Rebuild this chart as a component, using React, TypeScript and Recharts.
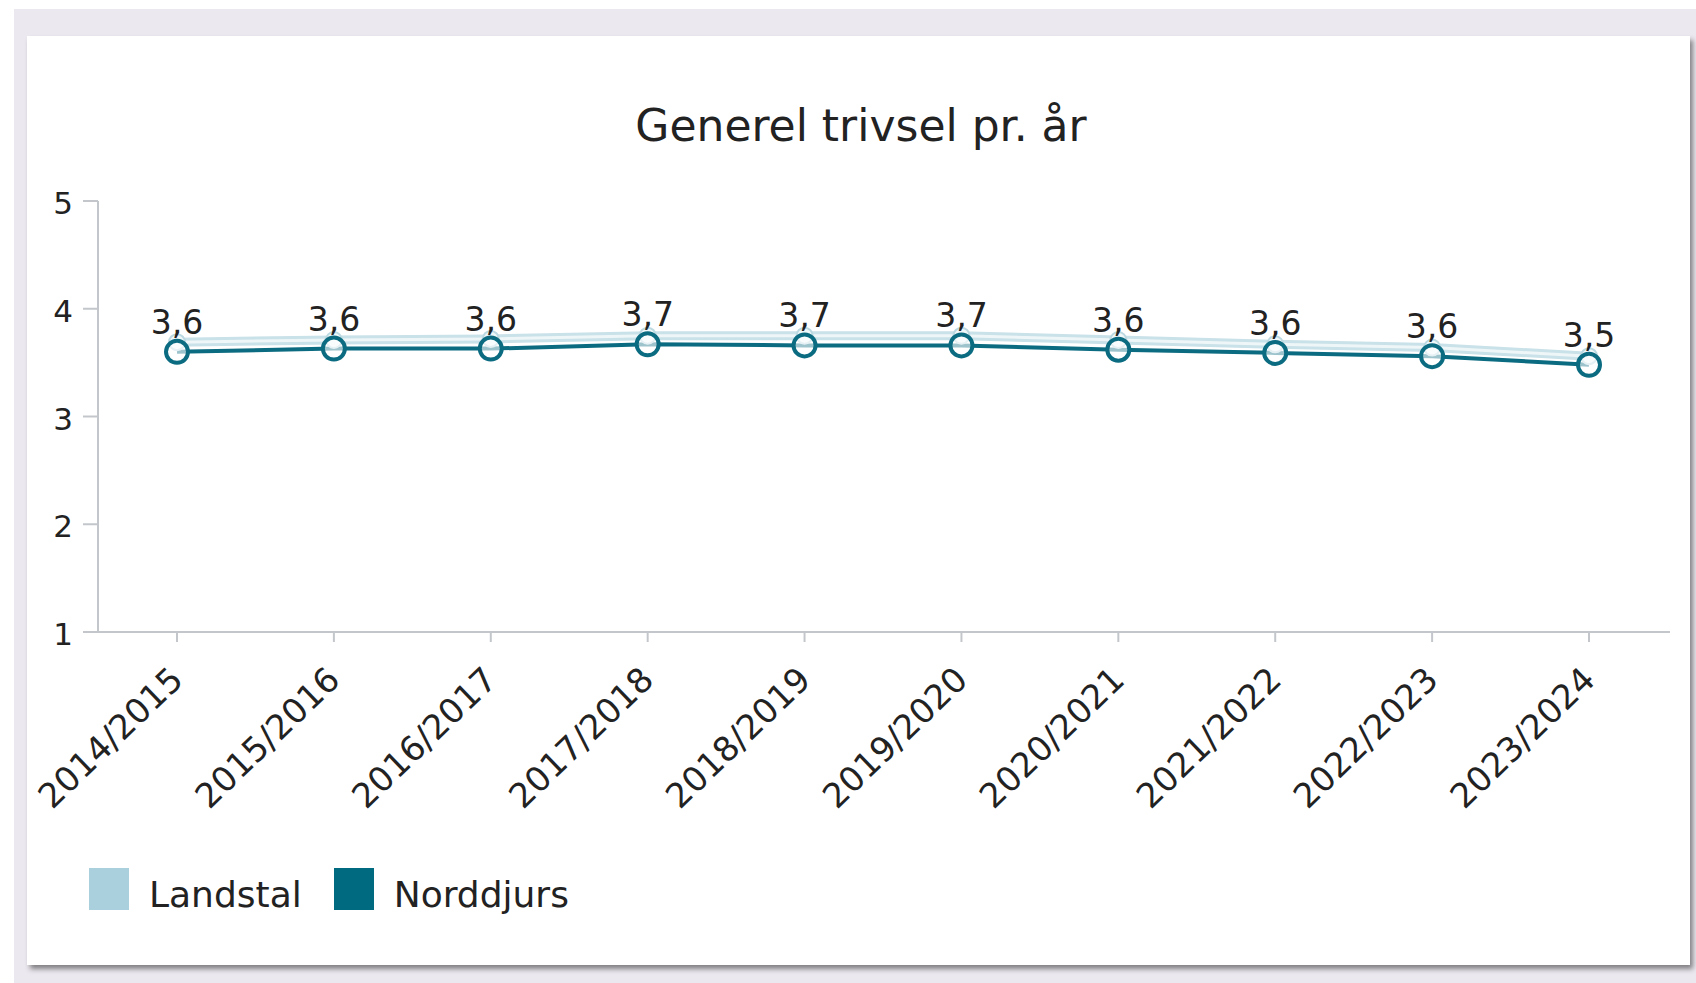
import React from 'react';
import { LineChart, Line, XAxis, YAxis, LabelList, Legend } from 'recharts';

// school years on the x axis
const years = [
  '2014/2015', '2015/2016', '2016/2017', '2017/2018', '2018/2019',
  '2019/2020', '2020/2021', '2021/2022', '2022/2023', '2023/2024',
];
const landstal = [3.69, 3.71, 3.72, 3.75, 3.75, 3.75, 3.71, 3.67, 3.64, 3.56];
const norddjurs = [3.6, 3.63, 3.63, 3.67, 3.66, 3.66, 3.62, 3.59, 3.56, 3.48];
const yTicks = [1, 2, 3, 4, 5];

const series = [
  { name: 'Landstal', color: '#a9d0dc' },
  { name: 'Norddjurs', color: '#006a80' },
];

const data = years.map((year, i) => ({
  year,
  landstal: landstal[i],
  norddjurs: norddjurs[i],
}));

const textColor = '#222';
const axisColor = '#c3c7cb';

const fmt = (v: number) => v.toFixed(1).replace('.', ',');

const YearTick = (props: any) => {
  const { x, y, payload } = props;
  return (
    <g transform={`translate(${x + 8},${y + 38})`}>
      <text textAnchor="end" transform="rotate(-44)" fill={textColor} fontSize={34}>
        {payload.value}
      </text>
    </g>
  );
};

const LegendBox = () => (
  <div style={{ display: 'flex', alignItems: 'flex-start' }}>
    {series.map((s, i) => (
      <div key={s.name} style={{ display: 'flex', alignItems: 'flex-start', marginRight: i === 0 ? 32 : 0 }}>
        <div style={{ width: 40, height: 42, background: s.color, marginRight: 20 }} />
        <span style={{ fontSize: 36, lineHeight: '36px', marginTop: 9, color: textColor }}>{s.name}</span>
      </div>
    ))}
  </div>
);

export default function App() {
  return (
    <div
      style={{
        position: 'absolute',
        left: 0,
        top: 0,
        width: 1696,
        height: 983,
        background: '#fff',
        fontFamily: '"DejaVu Sans", Verdana, sans-serif',
        overflow: 'hidden',
      }}
    >
      <div style={{ position: 'absolute', left: 14, top: 9, right: 0, bottom: 0, background: '#ece8ef' }} />
      <div
        style={{
          position: 'absolute',
          left: 27,
          top: 36,
          width: 1663,
          height: 929,
          background: '#fff',
          boxShadow: '3px 4px 5px rgba(0,0,0,0.45)',
        }}
      />
      <div
        style={{
          position: 'absolute',
          left: 861,
          top: 104,
          transform: 'translateX(-50%)',
          fontSize: 44,
          lineHeight: '44px',
          color: textColor,
          whiteSpace: 'nowrap',
        }}
      >
        Generel trivsel pr. år
      </div>
      <div style={{ position: 'absolute', left: 0, top: 0 }}>
        <LineChart
          width={1696}
          height={983}
          data={data}
          margin={{ top: 201, right: 26, bottom: 151, left: 8 }}
        >
          <XAxis
            dataKey="year"
            interval={0}
            padding={{ left: 79, right: 81 }}
            height={200}
            tickSize={10}
            axisLine={{ stroke: axisColor, strokeWidth: 2 }}
            tickLine={{ stroke: axisColor, strokeWidth: 2 }}
            tick={<YearTick />}
          />
          <YAxis
            type="number"
            domain={[1, 5]}
            ticks={yTicks}
            width={90}
            tickSize={15}
            tickMargin={10}
            axisLine={{ stroke: axisColor, strokeWidth: 2 }}
            tickLine={{ stroke: axisColor, strokeWidth: 2 }}
            tick={{ fill: textColor, fontSize: 31, dy: 2 }}
          />
          <Legend
            verticalAlign="middle"
            align="center"
            layout="horizontal"
            wrapperStyle={{ left: 89, top: 868, width: 600, height: 50 }}
            content={() => <LegendBox />}
          />
          <Line
            dataKey="landstal"
            name="Landstal"
            stroke="#c9e1e8"
            strokeWidth={9}
            dot={{ r: 8, stroke: '#bcd9e1', strokeWidth: 2, fill: '#f0f7f9' }}
            isAnimationActive={false}
          />
          <Line
            dataKey="landstal"
            legendType="none"
            stroke="#eef6f8"
            strokeWidth={3}
            dot={false}
            activeDot={false}
            isAnimationActive={false}
          />
          <Line
            dataKey="norddjurs"
            name="Norddjurs"
            stroke="#0b6b80"
            strokeWidth={4}
            dot={{ r: 11, stroke: '#0b6b80', strokeWidth: 4, fill: 'rgba(255,255,255,0.6)' }}
            isAnimationActive={false}
          >
            <LabelList
              dataKey="norddjurs"
              position="top"
              offset={18}
              formatter={(v: any) => fmt(Number(v))}
              fill={textColor}
              fontSize={33}
            />
          </Line>
        </LineChart>
      </div>
    </div>
  );
}
